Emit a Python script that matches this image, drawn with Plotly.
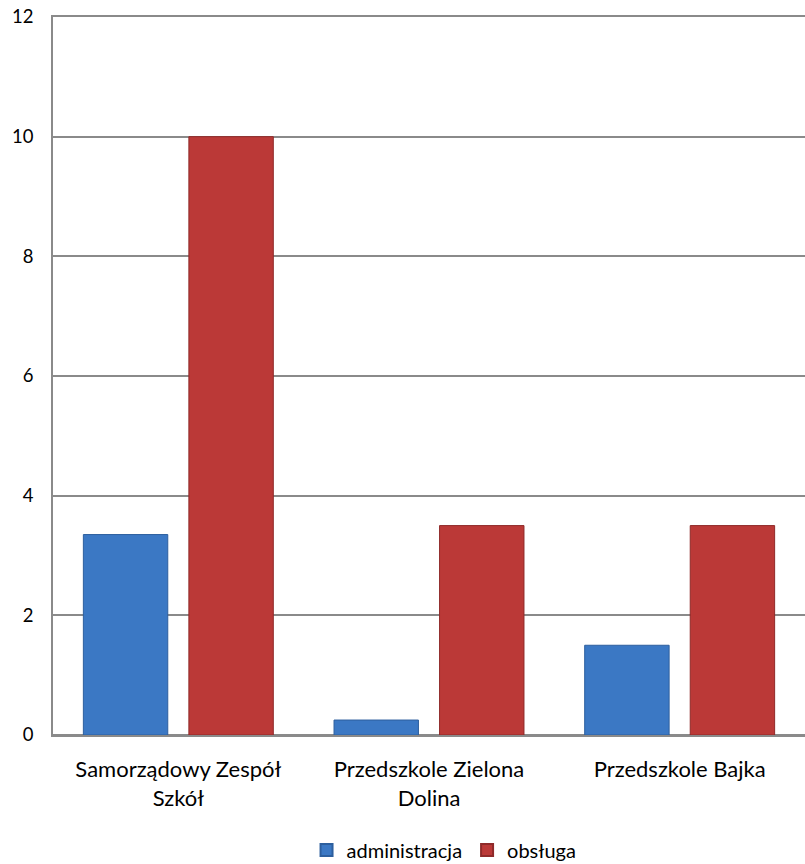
import plotly.graph_objects as go

categories = ["Samorządowy Zespół<br>Szkół", "Przedszkole Zielona<br>Dolina", "Przedszkole Bajka"]
administracja = [3.35, 0.25, 1.5]
obsluga = [10, 3.5, 3.5]
y_ticks = [0, 2, 4, 6, 8, 10, 12]

FONT = "Lato"
GRID = "#8a8a8a"

fig = go.Figure()
fig.add_trace(go.Bar(
    name="administracja", x=categories, y=administracja,
    marker=dict(color="#3b78c4", line=dict(color="#2d5f9e", width=1)),
))
fig.add_trace(go.Bar(
    name="obsługa", x=categories, y=obsluga,
    marker=dict(color="#bb3937", line=dict(color="#8f2a29", width=1)),
))

fig.update_layout(
    width=805, height=864,
    margin=dict(l=53, r=0, t=17, b=129, autoexpand=False),
    paper_bgcolor="white", plot_bgcolor="white",
    barmode="group", bargap=0.158, bargroupgap=0.2,
    font=dict(family=FONT, size=19, color="black"),
    showlegend=True,
    legend=dict(orientation="h", x=0.52, xanchor="center", y=-0.16, yanchor="middle",
                font=dict(family=FONT, size=20), itemsizing="constant", itemwidth=30,
                tracegroupgap=0),
)
fig.update_xaxes(showgrid=False, showline=True, mirror=True, linecolor=GRID, linewidth=1.5,
                 ticks="", automargin=False, ticklabelstandoff=14, tickfont=dict(size=22))
fig.update_yaxes(range=[0, 12], tickvals=y_ticks, showgrid=True, gridcolor=GRID, gridwidth=1.5,
                 showline=True, linecolor=GRID, linewidth=1.5, zeroline=True,
                 zerolinecolor=GRID, zerolinewidth=1.5, ticks="", ticklen=0,
                 automargin=False, ticklabelstandoff=14, tickfont=dict(size=18.5))

fig.write_html("out.html", config={"displayModeBar": False},
               post_script="document.body.style.margin='0';")
